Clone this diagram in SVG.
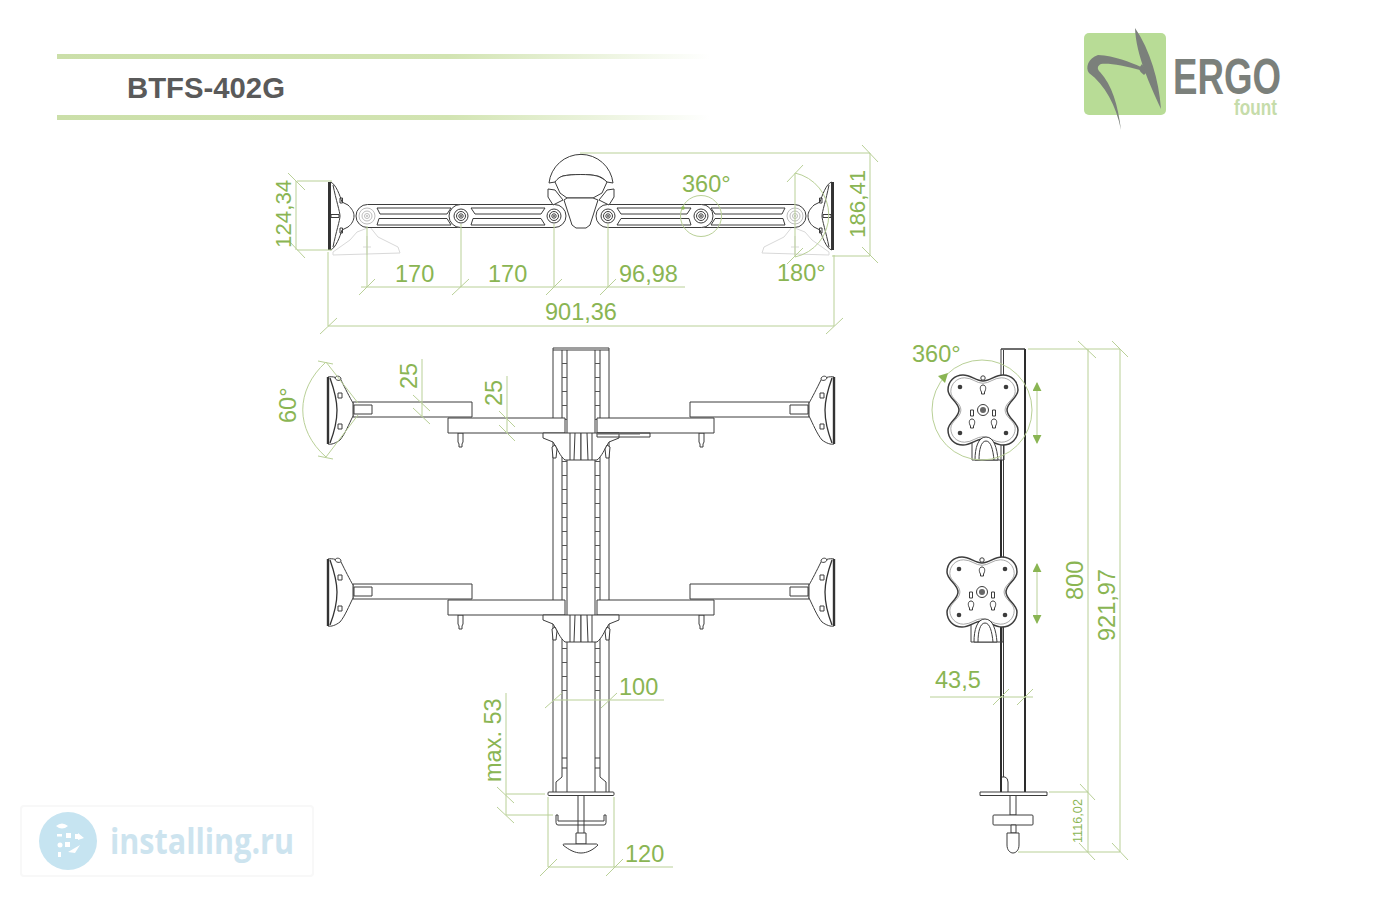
<svg xmlns="http://www.w3.org/2000/svg" width="1400" height="900" viewBox="0 0 1400 900">
<style>
.o{fill:none;stroke:#3c3c3c;stroke-width:1;stroke-linejoin:round}
.w{fill:#fff;stroke:#3c3c3c;stroke-width:1;stroke-linejoin:round}
.g{fill:#fff;fill-opacity:.6;stroke:#d9d9d9;stroke-width:1}
.gp{fill:#fff;stroke:#bdbdbd;stroke-width:1}
.d{fill:none;stroke:#b9d097;stroke-width:1}
.t{font-family:"Liberation Sans",Arial,sans-serif;font-size:23.500px;fill:#8ab553}
.ts{font-size:22.300px}
</style>
<defs>
<linearGradient id="bar" x1="0" x2="1" y1="0" y2="0"><stop offset="0" stop-color="#cbdfa9"/><stop offset=".6" stop-color="#d2e4b2"/><stop offset="1" stop-color="#fff"/></linearGradient>
<marker id="ah" viewBox="0 0 10 10" refX="9" refY="5" markerWidth="9" markerHeight="9" markerUnits="userSpaceOnUse" orient="auto-start-reverse"><path d="M0,0L10,5L0,10Z" fill="#8ab553"/></marker>
<g id="pivot"><circle r="7" class="w"/><circle r="4.500" class="o"/><circle r="2.200" class="o"/><circle r="1" fill="#555"/></g>
<g id="pivotGhost"><circle r="8" class="gp"/><circle r="5" class="gp"/><circle r="2.500" class="gp"/><circle r="1" fill="#bbb"/></g>
<g id="topArm">
<path class="g" d="M333,252L350,240L357,232L370,227L378,237L398,247L400,253L333,255ZM367,236V255M363,247H371"/>
<rect class="w" x="356" y="204.500" width="116" height="23" rx="11.500"/>
<path class="o" d="M377,208H451L447,214H380ZM379,218.500H447L451,225H377Z"/>
<rect class="w" x="449" y="204.500" width="117" height="23" rx="11.500"/>
<path class="o" d="M471,208H545L541,214H475ZM473,218.500H541L545,225H471Z"/>
<use href="#pivotGhost" x="367" y="216"/>
<use href="#pivot" x="461" y="216"/>
<use href="#pivot" x="554" y="216"/>
<path class="w" d="M330.500,182C336,184 340,196 342,202L348,205C352,209 354,212 354,216C354,220 352,224 348,227L342,230C340,236 336,248 330.500,250Z"/>
<path d="M328,182H330.500V250H328Z" fill="#333"/>
<path class="o" d="M333,185C336,200 340,212 340,216C340,220 336,232 333,247M340,198h2.500v5h-2.500zM340,228h2.500v5h-2.500z"/>
<rect class="w" x="331" y="214.500" width="8" height="3"/>
</g>
<g id="frontHalf">
<rect class="w" x="353" y="402" width="119" height="15"/>
<path class="w" d="M354,405H372V414H354Z"/>
<path class="w" d="M328,377C333,376 338,378 341,380C345,388 350,398 353,403V416C349,424 345,434 340,440C336,443 331,445 328,444Z"/>
<path stroke="#333" stroke-width="2.400" d="M328,377V444"/>
<path stroke="#333" stroke-width="1.300" fill="none" d="M330,378C335,392 337,402 337,410C337,418 335,430 330,443"/>
<path class="o" d="M338,393h4v5h-4zM338,424h4v5h-4z"/>
<path class="w" d="M335,378C336,375 341,376 341,379C341,381 336,381 335,378Z"/>
<path class="w" d="M458,433V442L459,444V447H462V444L463,442V433Z"/>
<rect class="w" x="448" y="418" width="117" height="15"/>
<path class="w" d="M543,433V438L553,442C558,450 560,456 565,460H581V433Z"/>
<path class="w" d="M552,447L555,445L557,449L556,458H553Z"/>
</g>
<g id="frontArms">
<use href="#frontHalf"/>
<use href="#frontHalf" transform="translate(1162,0) scale(-1,1)"/>
<path class="o" d="M570,433V460M575,433L574,460M587,433L588,460M592,433V460"/>
</g>
<path id="plateShape" d="M0,-29C7,-29 12,-35 20,-35C28.500,-35 35,-28.500 35,-20C35,-12 24,-8 24,0C24,8 35,12 35,20C35,28.500 28.500,35 20,35C12,35 7,29 0,29C-7,29 -12,35 -20,35C-28.500,35 -35,28.500 -35,20C-35,12 -24,8 -24,0C-24,-8 -35,-12 -35,-20C-35,-28.500 -28.500,-35 -20,-35C-12,-35 -7,-29 0,-29Z"/>
<g id="plate">
<path class="o" d="M-11,30V50H21V30"/>
<use href="#plateShape" fill="#fff" stroke="#3c3c3c" stroke-width="1.500"/>
<use href="#plateShape" transform="scale(.92)" fill="none" stroke="#888" stroke-width=".8"/>
<path class="w" d="M-8,50C-8,38 -5,27 3,27C11,27 14,38 15,50Z"/>
<path class="o" d="M-4,50C-4,40 -2,31 3,31C8,31 10,40 11,50"/>
<circle cx="0" cy="-32" r="2.200" class="w"/>
<g fill="#3c3c3c"><circle cx="-23" cy="-23" r="2.300"/><circle cx="23" cy="-23" r="2.300"/><circle cx="-23" cy="23" r="2.300"/><circle cx="23" cy="23" r="2.300"/></g>
<path id="kh" class="o" d="M0,-25C3,-25 3.500,-21 1.500,-18V-16H-1.500V-18C-3.500,-21 -3,-25 0,-25Z"/>
<use href="#kh" x="-11" y="34"/><use href="#kh" x="11" y="34"/>
<rect class="o" x="-12.500" y="0" width="3" height="6"/><rect class="o" x="9.500" y="0" width="3" height="6"/>
<circle r="5.500" class="o"/><circle r="3" fill="#666"/>
</g>
</defs>
<rect width="1400" height="900" fill="#fff"/>

<g id="header">
<rect x="57" y="54" width="653" height="5" fill="url(#bar)"/>
<rect x="57" y="115" width="653" height="5" fill="url(#bar)"/>
<text x="127" y="98" font-family="Liberation Sans,Arial,sans-serif" font-weight="700" font-size="29.300" fill="#5a5a5a">BTFS-402G</text>
</g>

<g id="logo">
<rect x="1084" y="33" width="82" height="82" rx="5" fill="#b8dc96"/>
<path fill="#7b807b" d="M1121,130C1116,105 1105,85 1089,73C1085,68 1088,58 1098,55C1115,56 1130,62 1141,67L1140,70C1125,66 1110,63 1101,64C1097,66 1097,69 1100,72C1112,85 1118,105 1121,130Z"/>
<path fill="#7b807b" d="M1142,64Q1136,70 1144,75L1147,72Z"/>
<path fill="#7b807b" d="M1135,28C1150,50 1159,80 1161,109C1150,85 1136,55 1135,28Z"/>
<text x="1173" y="94" font-family="Liberation Sans,Arial,sans-serif" font-weight="700" font-size="50" fill="#7b807b" textLength="108" lengthAdjust="spacingAndGlyphs">ERGO</text>
<text x="1234" y="115" font-family="Liberation Sans,Arial,sans-serif" font-weight="700" font-size="22" fill="#c6dcaa" textLength="43" lengthAdjust="spacingAndGlyphs">fount</text>
</g>

<g id="watermark">
<rect x="21" y="806" width="292" height="70" rx="3" fill="#fff" stroke="#f8f8f8" stroke-width="2"/>
<circle cx="68" cy="841" r="29" fill="#c6e4f1"/>
<g fill="#fff"><path d="M56,826Q62,821 68,826Q62,831 56,826Z"/><rect x="66" y="833" width="5" height="5"/><rect x="75" y="834" width="3" height="5"/><rect x="57" y="834" width="5" height="2.500"/><circle cx="60" cy="845" r="2.500"/><rect x="65" y="842" width="5" height="5"/><path d="M68,852L80,845L75,853Z"/><path d="M58,852h3v5h-3zM78,833l6,5l-6,2z"/></g>
<text x="110" y="854" font-family="Open Sans,Liberation Sans,sans-serif" font-weight="700" font-size="36" fill="#cde4ef" textLength="184" lengthAdjust="spacingAndGlyphs">installing.ru</text>
</g>

<g id="view-top">
<use href="#topArm"/>
<use href="#topArm" transform="translate(1162,0) scale(-1,1)"/>
<path class="w" d="M549,183A32.200,32.200 0 0 1 613,183L607,182C604,179 600,176 597,176C590,174 572,174 563,176C560,177 558,179 555,182Z"/>
<path class="w" d="M555,182C558,178 560,177 563,176C572,174 590,174 597,176C600,177 604,179 607,182L602,193L593,198H567L560,193Z"/>
<path class="w" d="M548,189L555,190L563,200L553,205L548,197ZM614,189L607,190L599,200L609,205L614,197Z"/>
<path class="w" d="M564,200L572,225L576,228H586L590,225L598,200L593,198H567Z"/>
</g>

<g id="view-front">
<path class="o" d="M553,795V348H609V795"/>
<path class="o" d="M553,350H609M562,350V777L556,782V792M567,350V792M595,350V792M600,350V777L606,782V792"/>
<path stroke="#555" stroke-width="5" stroke-dasharray="1 13" fill="none" d="M564.500,363V600M597.500,363V600M564.500,648V692M597.500,648V692"/>
<path class="o" d="M562,758H567M562,768H567M595,758H600M595,768H600"/>
<use href="#frontArms"/>
<use href="#frontArms" y="182"/>
<path class="o" d="M597,433H650V437H597Z"/>
<path fill="#666" d="M597,433H640V434.500H597Z"/>
<rect class="w" x="548" y="792" width="66" height="3.500" rx="1"/>
<path class="o" d="M578,795.500V833M584,795.500V833"/>
<path class="o" d="M556,815V822.500Q556,825 558,825H604Q606,825 606,822.500V815H604V821H558V815Z"/>
<rect class="w" x="576" y="833" width="10" height="11"/>
<path class="w" d="M563,845C569,850 575,853 581,853C587,853 593,850 598,845C597,844 597,844 596,844H565C564,844 563,844 563,845Z"/>
</g>

<g id="view-side">
<path class="o" d="M1001,792V349H1025V792"/>
<path class="o" d="M1003.500,350V777"/>
<path stroke="#222" stroke-width="1.800" fill="none" d="M1025,349V792M1001,460V792"/>
<path class="o" d="M1001,349H1025M1002,777H1005Q1008,778 1008,782V792"/>
<use href="#plate" x="983" y="410"/>
<use href="#plate" x="982" y="592"/>
<rect class="w" x="980" y="792" width="67" height="3.500"/>
<path class="w" d="M1010,795.500H1016V815H1010Z"/>
<rect class="w" x="993" y="815" width="40" height="10" rx="1"/>
<path class="w" d="M1011,825H1016V833H1011Z"/>
<path class="w" d="M1007,833H1019V845C1019,850 1016,853 1013,853C1010,853 1007,850 1007,845Z"/>
</g>

<g id="dims" class="d">
<path d="M328,252V326M834,255V326M367,226V287M461,224V287M554,224V287M608,224V287M795,173V257"/>
<path d="M580,153H870V256H832M297,181H332M297,250H332M296,181V250"/>
<circle cx="701" cy="216" r="20.500"/>
<path d="M795,173A43,43 0 0 1 795,257"/>
<path d="M326,362C295,390 295,430 326,457M326,362L358,403M326,457L358,415"/>
<path d="M422,359V417M507,376V433"/>
<path d="M553,700H664M506,693V815M506,794H545M506,815H553M548,797V867H673M614,797V867"/>
<path d="M1028,349H1120M1088,349V852M1120,349V852M1049,792H1088M1018,852H1120M930,697H1033"/>
<circle cx="982" cy="410" r="50"/>
<path d="M288,173L305,190M290,242L305,258M359,295L375,279M452,295L469,279M546,295L562,279M600,295L616,279M320,334L337,318M826,334L843,318M862,145L878,162M862,247L878,263M787,182L803,165M787,264L803,248"/>
<path d="M361,287H685M328,326H834"/>
<path d="M318,361L333,364M318,456L333,459M413,395L430,411M413,408L430,424M499,411L515,427M499,425L515,441"/>
<path d="M545,708L562,693M601,708L617,693M497,787L514,803M497,807L514,823M540,876L557,859M606,876L623,859"/>
<path d="M1078,341L1096,358M1112,341L1128,357M1080,784L1095,800M1079,843L1095,860M1112,843L1128,860M993,705L1009,689M1017,705L1033,689"/>
</g>

<g id="dim-arrows">
<path d="M1037,383V443" stroke="#b9d097" fill="none" marker-start="url(#ah)" marker-end="url(#ah)"/>
<path d="M1037,564V623" stroke="#b9d097" fill="none" marker-start="url(#ah)" marker-end="url(#ah)"/>
<path d="M938,376L948,373L945,383Z" fill="#8ab553"/>
<circle cx="683" cy="208" r="1.800" fill="#8ab553"/>
</g>

<g id="dim-labels">
<text class="t ts" transform="translate(291,248) rotate(-90)">124,34</text>
<text class="t" x="395" y="282">170</text>
<text class="t" x="488" y="282">170</text>
<text class="t" x="619" y="282">96,98</text>
<text class="t" x="545" y="320">901,36</text>
<text class="t" x="682" y="192">360°</text>
<text class="t" x="777" y="281">180°</text>
<text class="t ts" transform="translate(865,238) rotate(-90)">186,41</text>
<text class="t" transform="translate(296,423) rotate(-90)">60°</text>
<text class="t" transform="translate(417,389) rotate(-90)">25</text>
<text class="t" transform="translate(502,406) rotate(-90)">25</text>
<text class="t" x="619" y="695">100</text>
<text class="t" transform="translate(501,782) rotate(-90)">max. 53</text>
<text class="t" x="625" y="862">120</text>
<text class="t" x="912" y="362">360°</text>
<text class="t" x="935" y="688">43,5</text>
<text class="t" transform="translate(1083,600) rotate(-90)">800</text>
<text class="t" transform="translate(1115,641) rotate(-90)">921,97</text>
<text class="t" style="font-size:12.700px" transform="translate(1082,843) rotate(-90)">1116,02</text>
</g>
</svg>
